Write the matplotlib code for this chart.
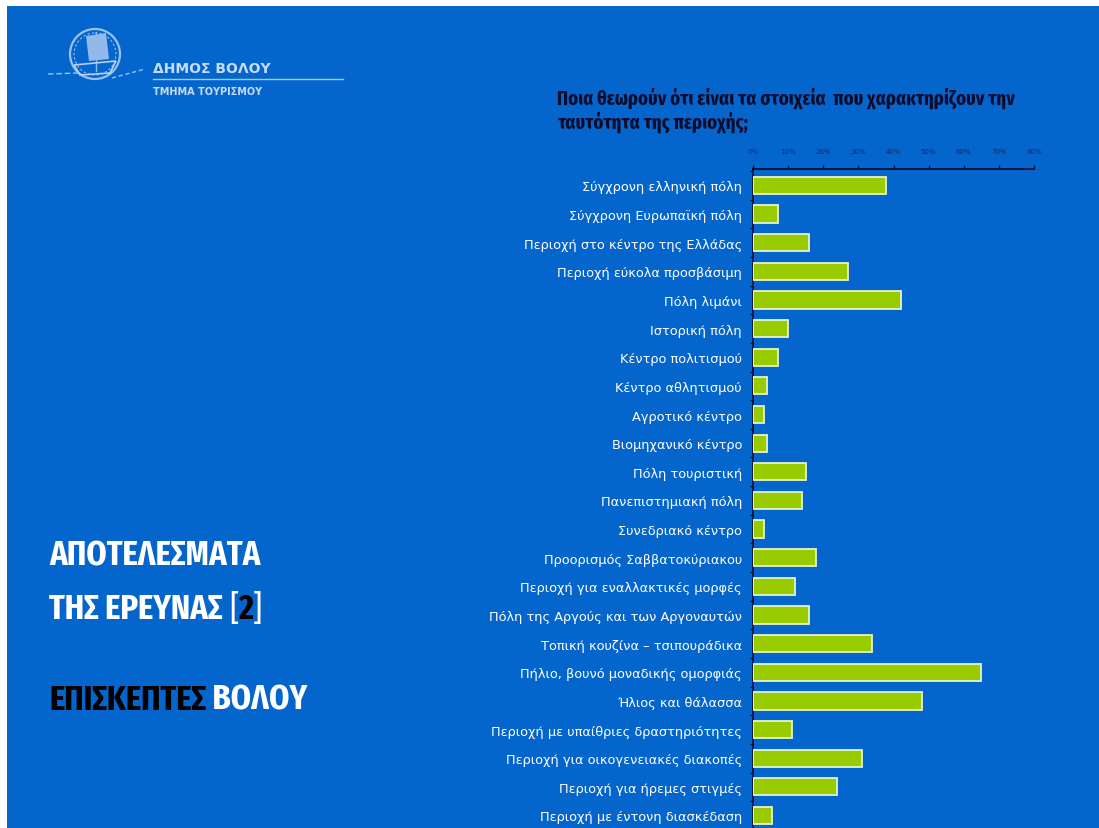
import matplotlib
matplotlib.use("Agg")
import matplotlib.pyplot as plt
from matplotlib import font_manager
from matplotlib.font_manager import FontProperties
from matplotlib.patches import Rectangle, Circle, Polygon
from matplotlib.ticker import FixedLocator, FuncFormatter

# ---- data ----
categories = [
    "Σύγχρονη ελληνική πόλη",
    "Σύγχρονη Ευρωπαϊκή πόλη",
    "Περιοχή στο κέντρο της Ελλάδας",
    "Περιοχή εύκολα προσβάσιμη",
    "Πόλη λιμάνι",
    "Ιστορική πόλη",
    "Κέντρο πολιτισμού",
    "Κέντρο αθλητισμού",
    "Αγροτικό κέντρο",
    "Βιομηχανικό κέντρο",
    "Πόλη τουριστική",
    "Πανεπιστημιακή πόλη",
    "Συνεδριακό κέντρο",
    "Προορισμός Σαββατοκύριακου",
    "Περιοχή για εναλλακτικές μορφές",
    "Πόλη της Αργούς και των Αργοναυτών",
    "Τοπική κουζίνα – τσιπουράδικα",
    "Πήλιο, βουνό μοναδικής ομορφιάς",
    "Ήλιος και θάλασσα",
    "Περιοχή με υπαίθριες δραστηριότητες",
    "Περιοχή για οικογενειακές διακοπές",
    "Περιοχή για ήρεμες στιγμές",
    "Περιοχή με έντονη διασκέδαση",
]
values = [0.38, 0.07, 0.16, 0.27, 0.42, 0.10, 0.07, 0.04, 0.03, 0.04,
          0.15, 0.14, 0.03, 0.18, 0.12, 0.16, 0.34, 0.65, 0.48, 0.11,
          0.31, 0.24, 0.055]
x_ticks = [0.0, 0.1, 0.2, 0.3, 0.4, 0.5, 0.6, 0.7, 0.8]

title_lines = ["Ποια θεωρούν ότι είναι τα στοιχεία  που χαρακτηρίζουν την",
               "ταυτότητα της περιοχής;"]

BG = "#0466CC"
NAVY = "#0c0c2e"
BAR = "#99CC00"
LIGHT = "#c8dbf5"


def has_greek(path):
    try:
        from matplotlib.ft2font import FT2Font
        cm = FT2Font(path).get_charmap()
        return ord("Ω") in cm and ord("ή") in cm
    except Exception:
        return False


def pick_condensed(bold=True, extra_first=True):
    best = None
    best_score = -1
    for f in font_manager.fontManager.ttflist:
        fn = f.fname.lower()
        tag = fn + " " + (f.name or "").lower()
        if not ("condensed" in tag or "narrow" in tag):
            continue
        if "italic" in fn or "oblique" in fn:
            continue
        if "semicondensed" in tag or "semi condensed" in tag:
            score = 1
        elif "extracondensed" in tag or "extra condensed" in tag:
            score = 3 if extra_first else 2
        else:
            score = 2 if extra_first else 3
        base = fn.rsplit("/", 1)[-1]
        isbold = ("bold" in base and not any(k in base for k in
                                             ("semibold", "extrabold", "ultrabold", "demibold")))
        isreg = not any(k in base for k in ("bold", "light", "thin", "black", "medium", "heavy"))
        if bold and isbold:
            score += 10
        if (not bold) and isreg:
            score += 10
        if score > best_score and has_greek(f.fname):
            best, best_score = f.fname, score
    return best


cb = pick_condensed(True, True)
cr = pick_condensed(False, True)
FP_B = FontProperties(fname=cb) if cb else FontProperties(family="DejaVu Sans", weight="bold")
FP_R = FontProperties(fname=cr) if cr else FontProperties(family="DejaVu Sans")
FP_LOGO = FontProperties(family="DejaVu Sans", weight="bold")

W, H = 1099, 829
fig = plt.figure(figsize=(W / 100, H / 100), dpi=100)
fig.patch.set_facecolor("white")
renderer = fig.canvas.get_renderer()

ov = fig.add_axes([0, 0, 1, 1], zorder=0)
ov.set_xlim(0, W)
ov.set_ylim(H, 0)
ov.axis("off")
ov.add_patch(Rectangle((7, 7), W, H, facecolor=BG, edgecolor="none", zorder=0))


def fit_size(text, fp, target_w, maxsize):
    p = fp.copy()
    p.set_size(20)
    t = fig.text(0, 0, text, fontproperties=p)
    w = t.get_window_extent(renderer).width
    t.remove()
    return min(maxsize, 20 * target_w / w)


def ptext(x, y, s, fp, size, color, **kw):
    p = fp.copy()
    p.set_size(size)
    return ov.text(x, y, s, fontproperties=p, color=color, va="baseline", ha="left", **kw)


def chain(prev, s, fp, size, color):
    p = fp.copy()
    p.set_size(size)
    return ov.annotate(s, xy=(1, 0), xycoords=prev, va="bottom", ha="left",
                       fontproperties=p, color=color)


# ---- logo ----
ov.add_patch(Circle((95, 55), 25, facecolor="none", edgecolor="#9cc0ec", lw=1.6, zorder=2))
ov.add_patch(Circle((95, 55), 21, facecolor="none", edgecolor="#9cc0ec", lw=0.8,
                    ls=(0, (2, 2)), zorder=2))
ov.add_patch(Polygon([(86, 37), (106, 34), (109, 60), (89, 62)], closed=True,
                     facecolor="#93b9ea", edgecolor="none", zorder=3))
ov.plot([96, 96], [33, 72], color="#93b9ea", lw=1, zorder=3)
ov.add_patch(Polygon([(74, 66), (116, 62), (110, 74), (80, 76)], closed=True,
                     facecolor="none", edgecolor="#b5d0f2", lw=1.2, zorder=3))
ov.plot([48, 78], [75, 74], color="#9cc0ec", lw=1, ls=(0, (4, 2)), zorder=3)
ov.plot([112, 145], [79, 70], color="#9cc0ec", lw=1, ls=(0, (3, 2)), zorder=3)
ptext(153, 73, "ΔΗΜΟΣ ΒΟΛΟΥ", FP_LOGO, 10, LIGHT, zorder=4)
ov.plot([153, 343], [80, 80], color="#a7c6ee", lw=1, zorder=3)
ptext(153, 95, "ΤΜΗΜΑ ΤΟΥΡΙΣΜΟΥ", FP_LOGO, 7, LIGHT, zorder=4)

# ---- left headline ----
BIG = 0.92 * fit_size("ΑΠΟΤΕΛΕΣΜΑΤΑ", FP_B, 230, 28)
ptext(49, 565, "ΑΠΟΤΕΛΕΣΜΑΤΑ", FP_B, BIG, "white")
t1 = ptext(49, 619, "ΤΗΣ ΕΡΕΥΝΑΣ ", FP_B, BIG, "white")
t2 = chain(t1, "[", FP_R, BIG, "white")
t3 = chain(t2, "2", FP_B, BIG, "black")
chain(t3, "]", FP_R, BIG, "white")
t4 = ptext(49, 710, "ΕΠΙΣΚΕΠΤΕΣ", FP_B, BIG, "black")
chain(t4, " ΒΟΛΟΥ", FP_B, BIG, "white")

# ---- chart title ----
TS = 0.93 * fit_size(title_lines[0], FP_B, 493, 16)
ptext(557, 105, title_lines[0], FP_B, TS, NAVY)
ptext(557, 129, title_lines[1], FP_B, TS, NAVY)

# ---- bar chart ----
n = len(categories)
slot = 28.64
top_px, left_px, right_px = 170, 753, 1034
top_val = -0.573
bottom_val = n - 0.5
bottom_px = top_px + (bottom_val - top_val) * slot
ax = fig.add_axes([left_px / W, (H - bottom_px) / H, (right_px - left_px) / W,
                   (bottom_px - top_px) / H], zorder=2)
ax.set_facecolor("none")
ypos = list(range(n))
ax.barh(ypos, values, height=0.6, color=BAR, edgecolor="#e6f2cc", linewidth=1.3, zorder=3)
ax.set_xlim(0, 0.8)
ax.set_ylim(bottom_val, top_val)

ax.xaxis.tick_top()
ax.set_xticks(x_ticks)
ax.xaxis.set_major_formatter(FuncFormatter(lambda v, p: f"{v * 100:.0f}%"))
ax.tick_params(axis="x", which="major", direction="out", length=3, width=1,
               color=NAVY, labelsize=5, labelcolor="#1a2560", pad=8)

ax.set_yticks(ypos)
ax.set_yticklabels(categories)
ax.tick_params(axis="y", which="major", length=0, pad=8, labelsize=9.3, labelcolor="white")
ax.yaxis.set_minor_locator(FixedLocator([i + 0.5 for i in range(-1, n)]))
ax.tick_params(axis="y", which="minor", direction="out", length=2.5, width=1, color=NAVY)

for side in ["right", "bottom"]:
    ax.spines[side].set_visible(False)
for side in ["top", "left"]:
    ax.spines[side].set_color(NAVY)
    ax.spines[side].set_linewidth(1.2)

fig.savefig("out.png", dpi=100, facecolor=fig.get_facecolor())
